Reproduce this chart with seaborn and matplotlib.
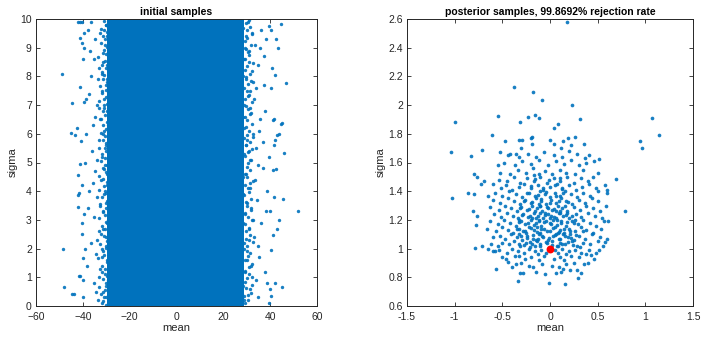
import numpy as np
import pandas as pd
import matplotlib
matplotlib.use("Agg")
import matplotlib.pyplot as plt
import seaborn as sns

# ---------------- data ----------------
# left panel: solid core band of initial samples (mean range), sigma range
core_mean_range = [-29.5, 28.8]
core_sigma_range = [0.0, 10.0]

left_edge_x = [-33.5,-31.2,-35.1,-30.4,-32.6,-29.8,-34.2,-31.7,-36.3,-30.1,-33.0,-29.5,-35.4,-31.4,-30.2,-33.8,-37.2,-29.7,-32.1,-34.9,-30.6,-31.9,-36.0,-29.9,-33.3,-30.8,-35.6,-32.4,-29.6,-34.0,-31.0,-37.5,-30.3,-33.6,-32.0,-29.8,-35.2,-31.5,-30.5,-34.6,-32.8,-29.9,-36.7,
               -30.9,-29.4,-31.8,-30.0,-29.3,-31.1,-29.6,-30.7,-29.4,-30.9,-29.5,-31.3,-29.7,-30.2,-32.9,-31.4,-32.7,-30.5,-31.6,-33.9,-31.2,-32.9,-31.8,-33.0,-30.8,-34.5,-33.9,-35.8,-34.7,-36.4,-38.3,-37.8,-38.6,-37.0,-38.0,-39.0,-38.9,-38.5,
               -31.7,-28.9,-29.1,-28.8,-29.0,-28.7,-29.2,-28.9,-29.0,-28.8]
left_edge_y = [0.2,0.5,0.8,1.1,1.3,1.6,1.8,2.0,2.2,2.4,2.6,2.9,3.1,3.3,3.6,3.8,4.0,4.2,4.4,4.7,4.9,5.2,5.4,5.6,5.8,6.1,6.3,6.5,6.8,7.0,7.2,7.4,7.7,7.9,8.1,8.4,8.6,8.8,9.1,9.3,9.5,9.8,9.9,
               0.3,0.9,1.7,2.1,3.0,3.9,4.6,5.5,6.3,7.0,7.9,8.5,9.4,0.7,1.0,2.7,3.5,4.0,4.8,5.1,6.0,6.9,7.5,8.3,9.6,0.5,2.3,4.3,6.6,8.0,1.4,3.4,6.0,8.9,9.6,2.0,5.0,7.2,
               0.1,0.4,1.3,2.5,3.7,5.0,5.9,7.3,8.8,9.9]

left_dense_x = [-30.2,-31.6,-29.9,-32.4,-30.7,-33.1,-30.0,-31.2,-29.7,-32.0,
                -30.5,-31.9,-29.8,-33.4,-30.9,-31.4,-30.1,-32.7,-29.6,-31.0,
                -32.2,-30.4,-31.7,-29.9,-33.0,-30.6,-31.3,-30.0,-32.5,-29.7,
                -31.8,-30.3,-33.2,-30.8,-29.8,-31.5,-32.9,-30.2,-31.1,-29.6,
                -32.3,-30.6,-31.8,-30.0,-33.3,-29.9,-31.4,-30.7,-32.1,-30.1,
                -31.2,-29.7,-32.8,-30.4,-31.6,-30.9,-29.8,-33.0,-30.3,-31.9,
                -30.0,-32.6,-29.6,-31.3,-30.8,-32.0,-29.9,-31.7,-30.5,-33.5,
                -30.1,-31.1,-29.7,-32.4,-30.6,-31.5,-29.8,-32.2,-30.2,-31.0]
left_dense_y = [0.05,0.18,0.31,0.42,0.57,0.66,0.79,0.93,1.04,1.17,1.29,1.41,1.55,1.68,1.77,1.92,2.03,2.16,2.28,2.43,
                2.52,2.67,2.79,2.91,3.06,3.18,3.27,3.42,3.55,3.66,3.81,3.93,4.05,4.17,4.31,4.42,4.53,4.68,4.79,4.92,
                5.05,5.16,5.29,5.41,5.52,5.67,5.78,5.93,6.04,6.16,6.29,6.41,6.53,6.67,6.78,6.91,7.04,7.16,7.27,7.42,
                7.54,7.66,7.79,7.92,8.04,8.16,8.28,8.41,8.54,8.67,8.79,8.92,9.03,9.17,9.29,9.42,9.53,9.66,9.79,9.93]

right_edge_x = [28.9,31.3,33.8,29.4,32.0,35.2,30.1,28.7,33.1,30.8,36.1,29.2,31.9,34.4,28.6,30.5,33.5,29.8,36.8,31.2,28.9,34.0,30.3,32.6,29.0,35.7,31.6,28.8,33.2,30.0,37.3,29.5,32.3,34.9,28.7,31.0,33.7,29.7,36.2,30.6,
                28.5,29.9,28.4,30.2,28.3,29.6,28.5,30.4,28.4,29.3,28.6,30.6,32.2,31.1,32.8,31.4,30.9,32.5,31.3,32.7,30.8,32.1,34.6,35.0,34.8,35.3,34.1,35.5,37.6,38.2,37.0,38.0,37.4,38.6,38.8,38.4]
right_edge_y = [0.2,0.6,0.9,1.2,1.4,1.7,1.9,2.2,2.4,2.7,2.9,3.2,3.4,3.7,3.9,4.1,4.4,4.6,4.8,5.1,5.3,5.5,5.8,6.0,6.2,6.5,6.7,7.0,7.2,7.5,7.7,7.9,8.2,8.4,8.6,8.9,9.1,9.4,9.6,9.9,
                0.7,1.6,2.9,3.6,4.5,5.6,6.6,7.3,8.0,9.0,9.7,0.4,1.0,2.3,3.0,4.3,5.4,5.9,6.9,7.8,8.5,9.5,0.3,2.1,4.9,6.1,7.6,9.0,1.2,3.3,5.7,6.8,8.7,0.8,4.0,9.3]

right_dense_x = [29.3,30.6,29.0,31.8,29.7,32.4,29.1,30.2,31.1,29.4,
                 30.9,32.1,29.2,30.4,31.6,29.0,30.0,32.5,29.5,31.3,
                 29.8,31.0,29.1,32.2,30.5,29.3,31.7,30.1,29.6,32.0,
                 29.0,30.8,31.4,29.4,32.6,30.3,29.2,31.2,29.9,30.7,
                 31.9,29.1,30.4,32.3,29.6,31.5,29.0,30.2,31.1,29.7,
                 32.4,30.0,29.3,31.8,30.6,29.5,32.1,29.2,30.9,31.3,
                 29.0,30.5,32.0,29.8,31.6,29.4,30.1,32.5,29.1,31.0,
                 30.7,29.6,31.9,29.2,30.3,32.2,29.9,31.4,29.5,30.8]
right_dense_y = [0.09,0.22,0.35,0.47,0.61,0.72,0.85,0.97,1.11,1.22,1.36,1.48,1.59,1.73,1.84,1.97,2.09,2.22,2.34,2.47,
                 2.60,2.72,2.84,2.98,3.10,3.23,3.35,3.47,3.61,3.72,3.86,3.98,4.10,4.23,4.35,4.48,4.60,4.73,4.85,4.98,
                 5.10,5.22,5.35,5.47,5.60,5.72,5.85,5.97,6.10,6.22,6.35,6.48,6.60,6.72,6.85,6.97,7.10,7.22,7.35,7.48,
                 7.60,7.73,7.85,7.97,8.10,8.22,8.35,8.47,8.60,8.73,8.85,8.97,9.10,9.22,9.35,9.47,9.60,9.72,9.85,9.97]

outer_x = [-48.9,-48.3,-48.2,-44.8,-45.1,-43.4,-44.5,-43.8,-42.7,-42.2,-41.7,-41.9,-42.2,-41.1,-41.4,-41.2,-42.0,-41.0,-40.5,-40.7,-40.4,-40.2,-40.1,-41.8,-41.0,-39.8,-40.5,-39.6,-39.5,-40.0,-39.7,-40.2,-39.4,-39.9,
           51.8,46.6,45.8,45.5,45.2,44.6,43.1,43.6,44.5,44.9,43.4,42.7,42.0,41.5,41.9,41.2,42.3,41.6,41.2,41.7,41.2,41.9,43.8,42.8,40.1,40.4,39.8,39.5,40.5,40.5,39.4,40.2,39.6,40.8]
outer_y = [8.08,1.97,0.67,7.06,6.04,5.96,0.42,0.42,6.19,3.44,3.92,3.88,4.56,4.96,7.64,9.33,9.88,9.88,9.9,5.76,2.88,2.5,1.66,1.05,1.06,0.33,9.15,9.0,9.52,8.6,7.1,4.2,3.2,0.9,
           3.32,7.78,5.32,3.72,0.65,9.83,5.97,6.0,6.35,6.37,9.0,9.29,8.06,5.6,5.8,4.74,4.76,6.5,6.48,3.81,2.46,0.79,3.0,2.7,3.3,1.95,0.58,0.12,0.35,9.6,9.75,7.6,5.2,8.3]

# right panel: accepted posterior samples
post_mean = [
 0.18,-0.38,-0.18,-0.08,0.23,-0.545,-0.23,-0.16,-0.12,-0.31,0.31,0.08,0.045,-1.0,-0.61,1.07,1.14,0.94,0.96,-1.04,-1.03,-0.83,-0.71,
 -0.47,-0.32,-0.29,-0.19,-0.2,0.0,0.19,0.14,0.26,0.36,-0.19,0.04,-0.52,-0.42,-0.36,0.22,0.51,0.41,-0.77,-0.80,-0.86,-0.80,-0.81,-0.77,
 -0.78,-0.79,-0.71,-0.65,-0.72,-0.69,-0.57,-0.34,0.157,-0.01,0.29,0.33,0.51,0.43,0.58,0.61,0.69,0.79,0.59,0.6,0.6,0.58,
 -0.31,-0.28,-0.15,-0.05,0.06,0.12,0.21,0.28,-0.40,0.14,
 -0.44,-0.36,-0.22,-0.18,-0.08,0.02,0.09,0.17,0.25,0.36,0.40,-0.30,
 -0.50,-0.46,-0.37,-0.32,-0.26,-0.20,-0.12,-0.06,0.04,0.10,0.15,0.22,0.30,0.38,0.46,-0.58,
 -0.60,-0.53,-0.45,-0.40,-0.34,-0.27,-0.22,-0.16,-0.09,-0.04,0.05,0.08,0.13,0.20,0.26,0.33,0.41,0.48,-0.13,0.17,
 -0.62,-0.55,-0.50,-0.43,-0.38,-0.31,-0.25,-0.19,-0.14,-0.10,-0.03,0.02,0.07,0.11,0.16,0.23,0.28,0.35,0.42,0.50,0.56,-0.21,0.31,
 -0.60,-0.52,-0.47,-0.41,-0.35,-0.29,-0.24,-0.18,-0.12,-0.07,-0.02,0.03,0.09,0.14,0.19,0.25,0.30,0.37,0.44,0.52,0.60,-0.33,0.06,-0.15,0.21,
 -0.66,-0.57,-0.50,-0.44,-0.39,-0.33,-0.28,-0.22,-0.17,-0.11,-0.06,0.00,0.05,0.10,0.15,0.20,0.26,0.32,0.38,0.45,0.53,-0.25,0.08,-0.14,0.35,
 -0.63,-0.55,-0.48,-0.42,-0.36,-0.30,-0.26,-0.20,-0.15,-0.09,-0.04,0.01,0.07,0.12,0.17,0.23,0.29,0.35,0.42,0.48,0.57,-0.12,0.03,-0.33,0.26,
 -0.59,-0.51,-0.45,-0.39,-0.34,-0.28,-0.23,-0.17,-0.13,-0.07,-0.02,0.04,0.09,0.14,0.20,0.27,0.33,0.40,0.47,0.55,-0.19,0.00,0.18,-0.05,
 -0.63,-0.54,-0.47,-0.41,-0.35,-0.30,-0.24,-0.19,-0.14,-0.08,-0.03,0.02,0.08,0.13,0.18,0.25,0.31,0.38,0.45,0.52,-0.10,0.06,
 -0.60,-0.52,-0.44,-0.38,-0.31,-0.26,-0.20,-0.15,-0.09,-0.04,0.01,0.06,0.12,0.17,0.23,0.30,0.37,0.44,0.50,-0.12,
 -0.58,-0.50,-0.43,-0.36,-0.29,-0.22,-0.16,-0.10,-0.05,0.00,0.05,0.11,0.16,0.22,0.28,0.35,0.42,0.50,-0.65,
 -0.60,-0.51,-0.46,-0.40,-0.33,-0.27,-0.20,-0.13,-0.07,0.00,0.07,0.13,0.20,0.27,0.34,0.41,0.48,
 -0.53,-0.45,-0.38,-0.31,-0.24,-0.17,-0.10,-0.03,0.04,0.10,0.18,0.25,0.33,0.40,0.45,
 -0.52,-0.42,-0.34,-0.25,-0.18,-0.12,-0.05,0.02,0.10,0.17,0.26,0.35,0.50,-0.17,
 -0.48,-0.37,-0.29,-0.20,-0.12,-0.02,0.06,0.15,0.22,0.30,0.38,0.46,-0.55,
 -0.44,-0.33,-0.23,-0.15,-0.06,0.04,0.13,0.20,0.28,0.37,0.12,-0.30,
 -0.33,-0.27,-0.21,-0.16,-0.11,-0.04,0.02,0.08,0.13,0.19,0.24,
 -0.30,-0.24,-0.18,-0.13,-0.08,-0.01,0.05,0.11,0.16,0.22,0.27,
 -0.35,-0.26,-0.20,-0.14,-0.09,-0.03,0.03,0.09,0.15,0.21,
 -0.32,-0.23,-0.17,-0.12,-0.06,0.00,0.07,0.12,0.18,0.25,
 -0.29,-0.21,-0.15,-0.10,-0.05,0.01,0.06,0.10,0.17,0.23,
 -0.31,-0.22,-0.16,-0.11,-0.02,0.04,0.11,0.16,
 -0.27,-0.19,-0.09,0.00,0.09,0.19,
 -0.24,-0.13,-0.04,0.06,0.14,
 -0.20,-0.07,0.05,0.13,
 -0.16,-0.01,0.10]
post_sigma = [
 2.58,2.126,2.09,2.035,2.003,1.926,1.92,1.93,1.91,1.88,1.90,1.87,1.84,1.88,1.79,1.91,1.79,1.75,1.70,1.67,1.355,1.643,1.685,
 1.75,1.76,1.76,1.78,1.77,1.76,1.77,1.75,1.78,1.73,1.73,1.73,1.67,1.66,1.66,1.72,1.627,1.65,1.50,1.52,1.385,1.38,1.264,1.23,
 1.165,1.005,1.018,1.00,1.45,1.47,0.86,0.777,0.75,0.763,0.795,0.83,0.99,0.953,1.046,1.195,1.483,1.26,1.30,1.41,1.39,1.44,
 0.83,0.83,0.84,0.82,0.83,0.84,0.85,0.85,0.87,0.86,
 0.91,0.89,0.88,0.87,0.89,0.88,0.87,0.89,0.90,0.89,0.90,0.90,
 0.94,0.93,0.95,0.95,0.93,0.94,0.92,0.95,0.93,0.94,0.92,0.95,0.94,0.96,0.93,0.98,
 0.98,0.99,0.97,1.00,0.98,0.97,1.00,0.98,0.99,0.97,0.99,0.97,1.00,0.98,0.99,0.97,0.99,0.97,0.96,0.96,
 1.03,1.02,1.04,1.03,1.05,1.02,1.04,1.03,1.05,1.02,1.04,1.05,1.02,1.04,1.03,1.05,1.02,1.04,1.03,1.05,1.02,1.01,1.01,
 1.08,1.09,1.07,1.10,1.08,1.06,1.09,1.07,1.10,1.08,1.06,1.09,1.07,1.10,1.08,1.06,1.09,1.07,1.10,1.08,1.07,1.10,1.10,1.06,1.10,
 1.14,1.12,1.15,1.13,1.11,1.14,1.12,1.15,1.13,1.11,1.14,1.12,1.15,1.13,1.11,1.14,1.12,1.15,1.13,1.11,1.14,1.11,1.11,1.15,1.12,
 1.19,1.17,1.20,1.18,1.16,1.19,1.17,1.20,1.18,1.16,1.19,1.17,1.20,1.18,1.16,1.19,1.17,1.20,1.18,1.16,1.19,1.20,1.20,1.20,1.20,
 1.24,1.22,1.25,1.23,1.21,1.24,1.22,1.25,1.23,1.21,1.24,1.22,1.25,1.23,1.21,1.24,1.22,1.25,1.23,1.21,1.21,1.21,1.25,1.25,
 1.29,1.27,1.30,1.28,1.26,1.29,1.27,1.30,1.28,1.26,1.29,1.27,1.30,1.28,1.26,1.29,1.27,1.30,1.28,1.26,1.30,1.26,
 1.34,1.32,1.35,1.33,1.31,1.34,1.32,1.35,1.33,1.31,1.34,1.32,1.35,1.33,1.31,1.34,1.32,1.35,1.33,1.31,
 1.39,1.37,1.40,1.38,1.36,1.39,1.37,1.40,1.38,1.36,1.39,1.37,1.40,1.38,1.36,1.39,1.37,1.40,1.37,
 1.45,1.42,1.44,1.41,1.43,1.45,1.42,1.44,1.41,1.43,1.45,1.42,1.44,1.41,1.43,1.45,1.42,
 1.48,1.47,1.50,1.46,1.49,1.47,1.50,1.46,1.49,1.47,1.50,1.46,1.49,1.47,1.50,
 1.53,1.52,1.55,1.53,1.56,1.52,1.54,1.52,1.55,1.53,1.52,1.55,1.53,1.51,
 1.60,1.58,1.61,1.59,1.62,1.58,1.61,1.59,1.62,1.58,1.60,1.61,1.58,
 1.65,1.64,1.66,1.64,1.67,1.65,1.64,1.68,1.66,1.63,1.70,1.70,
 1.035,1.025,1.045,1.015,1.035,1.045,1.025,1.015,1.035,1.045,1.025,
 1.085,1.075,1.095,1.065,1.085,1.075,1.095,1.065,1.085,1.075,1.095,
 1.135,1.125,1.145,1.115,1.135,1.125,1.145,1.115,1.135,1.125,
 1.185,1.175,1.165,1.195,1.185,1.175,1.165,1.195,1.185,1.175,
 1.235,1.225,1.215,1.245,1.235,1.225,1.215,1.245,1.235,1.225,
 1.285,1.275,1.265,1.295,1.285,1.275,1.265,1.295,
 1.335,1.325,1.345,1.315,1.335,1.325,
 1.385,1.375,1.395,1.365,1.385,
 1.435,1.425,1.445,1.415,
 1.485,1.475,1.495]

true_mean = [0.0]
true_sigma = [1.0]

titles = ["initial samples", "posterior samples, 99.8692% rejection rate"]
xlabel = "mean"
ylabel = "sigma"
left_xticks = [-60, -40, -20, 0, 20, 40, 60]
left_yticks = list(range(0, 11))
right_xticks = [-1.5, -1, -0.5, 0, 0.5, 1, 1.5]
right_xticklabels = ["-1.5", "-1", "-0.5", "0", "0.5", "1", "1.5"]
right_yticks = [0.6, 0.8, 1, 1.2, 1.4, 1.6, 1.8, 2, 2.2, 2.4, 2.6]
right_yticklabels = ["0.6", "0.8", "1", "1.2", "1.4", "1.6", "1.8", "2", "2.2", "2.4", "2.6"]

# ---------------- plot ----------------
sns.set_theme(style="white")
plt.rcParams['font.family'] = ['Liberation Sans', 'DejaVu Sans']

BLUE = "#0072BD"
fig = plt.figure(figsize=(7.11, 3.42), dpi=100)
ax1 = fig.add_axes([36/711, 36/342, 281/711, 287/342])
ax2 = fig.add_axes([407/711, 36/342, 286/711, 287/342])

# left panel
ax1.fill_betweenx(core_sigma_range, core_mean_range[0], core_mean_range[1], color=BLUE, lw=0)
left_df = pd.DataFrame({"mean": left_edge_x + left_dense_x + right_edge_x + right_dense_x + outer_x,
                        "sigma": left_edge_y + left_dense_y + right_edge_y + right_dense_y + outer_y})
sns.scatterplot(data=left_df, x="mean", y="sigma", ax=ax1, s=6, color=BLUE,
                linewidth=0, alpha=0.9)
ax1.set_xlim(-60, 60)
ax1.set_ylim(0, 10)
ax1.set_xticks(left_xticks)
ax1.set_yticks(left_yticks)

# right panel
right_df = pd.DataFrame({"mean": post_mean, "sigma": post_sigma})
sns.scatterplot(data=right_df, x="mean", y="sigma", ax=ax2, s=7, color=BLUE,
                linewidth=0, alpha=0.9)
sns.scatterplot(x=true_mean, y=true_sigma, ax=ax2, s=32, color="#FF0000", linewidth=0)
ax2.set_xlim(-1.5, 1.5)
ax2.set_ylim(0.6, 2.6)
ax2.set_xticks(right_xticks)
ax2.set_xticklabels(right_xticklabels)
ax2.set_yticks(right_yticks)
ax2.set_yticklabels(right_yticklabels)

for ax, t in zip([ax1, ax2], titles):
    ax.set_title(t, fontsize=7.5, fontweight="bold", pad=3, color="black")
    ax.set_xlabel(xlabel, fontsize=8, color="#262626", labelpad=1)
    ax.set_ylabel(ylabel, fontsize=8, color="#262626", labelpad=2)
    ax.tick_params(direction="in", length=3, width=0.6, top=True, right=True,
                   bottom=True, left=True, labelsize=7.5, colors="#262626")
    ax.tick_params(axis="x", pad=4)
    ax.tick_params(axis="y", pad=3)
    for sp in ax.spines.values():
        sp.set_color("#262626")
        sp.set_linewidth(0.7)

fig.savefig("out.png", dpi=100)
